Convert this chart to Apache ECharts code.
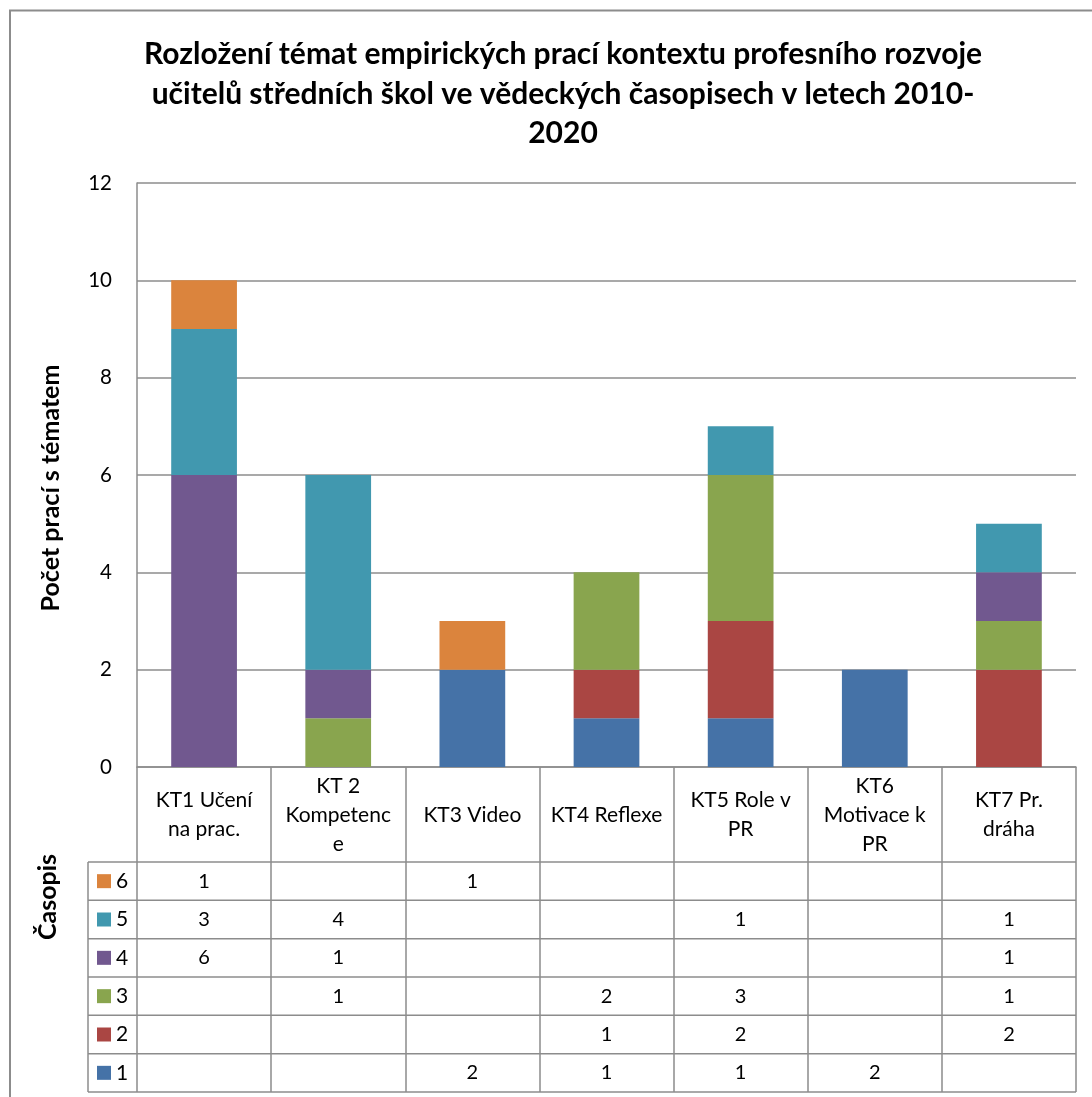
<!DOCTYPE html>
<html>
<head>
<meta charset="utf-8">
<script src="https://cdn.jsdelivr.net/npm/echarts@6/dist/echarts.min.js"></script>
<style>
  html, body { margin: 0; padding: 0; background: #fff; }
  #chart { width: 1092px; height: 1097px; }
</style>
</head>
<body>
<div id="chart"></div>
<script>
// Topics (categories) and counts per journal (series 1..6), stacked bottom to top
const categories = ['KT1 Učení na prac.', 'KT 2 Kompetence', 'KT3 Video', 'KT4 Reflexe', 'KT5 Role v PR', 'KT6 Motivace k PR', 'KT7 Pr. dráha'];
const categoryLabels = ['KT1 Učení\nna prac.', 'KT 2\nKompetenc\ne', 'KT3 Video', 'KT4 Reflexe', 'KT5 Role v\nPR', 'KT6\nMotivace k\nPR', 'KT7 Pr.\ndráha'];
const seriesNames = ['1', '2', '3', '4', '5', '6'];
const journal1 = [null, null, 2, 1, 1, 2, null];
const journal2 = [null, null, null, 1, 2, null, 2];
const journal3 = [null, 1, null, 2, 3, null, 1];
const journal4 = [6, 1, null, null, null, null, 1];
const journal5 = [3, 4, null, null, 1, null, 1];
const journal6 = [1, null, 1, null, null, null, null];
const seriesColors = ['#4572A7', '#AA4643', '#89A54E', '#71588F', '#4198AF', '#DB843D'];
const yTicks = { min: 0, max: 12, interval: 2 };

const seriesData = [journal1, journal2, journal3, journal4, journal5, journal6];

const FONT = 'Lato, "Open Sans", sans-serif';
const LINE = '#8c8c8c';

const chart = echarts.init(document.getElementById('chart'), null, { renderer: 'canvas' });

const gridRect = { left: 137, top: 183, right: 1092 - 1076, bottom: 1097 - 767 };

chart.setOption({
  animation: false,
  backgroundColor: '#ffffff',
  title: {
    text: 'Rozložení témat empirických prací kontextu profesního rozvoje\nučitelů středních škol ve vědeckých časopisech v letech 2010-\n2020',
    left: 558,
    top: 30,
    textAlign: 'center',
    textStyle: { fontFamily: FONT, fontWeight: 'bold', fontSize: 30, lineHeight: 39.5, color: '#000' }
  },
  grid: gridRect,
  xAxis: {
    type: 'category',
    data: categories,
    axisLine: { lineStyle: { color: LINE, width: 1.5 } },
    axisTick: { show: true, length: 1092 - 767, lineStyle: { color: LINE, width: 1.5 } },
    axisLabel: {
      interval: 0,
      margin: 48,
      verticalAlign: 'middle',
      fontFamily: FONT,
      fontSize: 21,
      lineHeight: 29,
      color: '#000',
      formatter: (v, i) => categoryLabels[i]
    },
    splitLine: { show: false }
  },
  yAxis: {
    type: 'value',
    min: yTicks.min,
    max: yTicks.max,
    interval: yTicks.interval,
    name: 'Počet prací s tématem',
    nameLocation: 'middle',
    nameGap: 74,
    nameRotate: 90,
    nameTextStyle: { fontFamily: FONT, fontWeight: 'bold', fontSize: 25, color: '#000', padding: [0, 26, 0, 0] },
    axisLine: { show: true, lineStyle: { color: LINE, width: 1.5 } },
    axisTick: { show: false },
    axisLabel: { fontFamily: FONT, fontSize: 20.5, color: '#000', margin: 25 },
    splitLine: { show: true, lineStyle: { color: LINE, width: 1.5 } }
  },
  series: seriesNames.map((name, k) => ({
    name,
    type: 'bar',
    stack: 'total',
    barWidth: '49%',
    data: seriesData[k],
    itemStyle: { color: seriesColors[k] }
  }))
});

// Data table under the plot, positioned from the axis scales
function drawTable() {
  const g = [];
  const x0 = chart.convertToPixel({ xAxisIndex: 0 }, 0);
  const x1 = chart.convertToPixel({ xAxisIndex: 0 }, 1);
  const colW = x1 - x0;
  const tableLeft = x0 - colW / 2;
  const tableRight = tableLeft + colW * categories.length;
  const headerBottom = 862;
  const rowH = (1092 - headerBottom) / seriesNames.length;
  const keyLeft = 88;

  // chart frame (top and left edge)
  g.push({ type: 'polyline', shape: { points: [[10, 1097], [10, 10.5], [1092, 10.5]] }, style: { stroke: '#8c8c8c', lineWidth: 2, fill: null } });

  // horizontal rules of the table
  for (let r = 0; r <= seriesNames.length; r++) {
    const y = headerBottom + r * rowH;
    g.push({ type: 'line', shape: { x1: keyLeft, y1: y, x2: tableRight, y2: y }, style: { stroke: LINE, lineWidth: 1.5 } });
  }
  // left edge of key column
  g.push({ type: 'line', shape: { x1: keyLeft, y1: headerBottom, x2: keyLeft, y2: 1092 }, style: { stroke: LINE, lineWidth: 1.5 } });

  // rows: series 6 at top, series 1 at bottom
  for (let r = 0; r < seriesNames.length; r++) {
    const k = seriesNames.length - 1 - r;
    const yc = headerBottom + r * rowH + rowH / 2;
    g.push({ type: 'rect', shape: { x: 97, y: yc - 7, width: 14, height: 14 }, style: { fill: seriesColors[k] } });
    g.push({ type: 'text', x: 116, y: yc, style: { text: seriesNames[k], font: '21px ' + FONT, fill: '#000', textAlign: 'left', textVerticalAlign: 'middle' } });
    seriesData[k].forEach((v, i) => {
      if (v == null) return;
      const xc = chart.convertToPixel({ xAxisIndex: 0 }, i);
      g.push({ type: 'text', x: xc, y: yc, style: { text: String(v), font: '20px ' + FONT, fill: '#000', textAlign: 'center', textVerticalAlign: 'middle' } });
    });
  }

  // side caption of the table
  g.push({ type: 'text', x: 48, y: 897, rotation: Math.PI / 2, style: { text: 'Časopis', font: 'bold 25px ' + FONT, fill: '#000', textAlign: 'center', textVerticalAlign: 'middle' } });

  chart.setOption({ graphic: { elements: g } });
}
drawTable();
</script>
</body>
</html>
